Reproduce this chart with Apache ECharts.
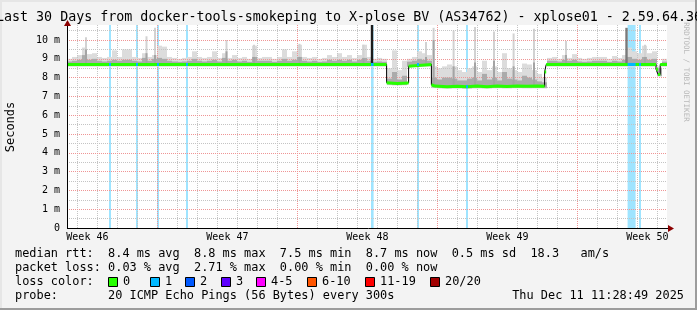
<!DOCTYPE html>
<html><head><meta charset="utf-8">
<script src="https://cdn.jsdelivr.net/npm/echarts@6/dist/echarts.min.js"></script>
<style>html,body{margin:0;padding:0;background:#f3f3f3}#c{width:697px;height:310px}</style>
</head><body><div id="c"></div>
<script>
// ---------------- DATA (x: days since window start, y: ms) ----------------
const titleText = 'Last 30 Days from docker-tools-smokeping to X-plose BV (AS34762) - xplose01 - 2.59.64.36';
const weekLabels = ['Week 46', 'Week 47', 'Week 48', 'Week 49', 'Week 50'];
const weekLabelDays = [1.02, 8.02, 15.02, 22.02, 29.02];
const weekStartDays = [4.52, 11.52, 18.52, 25.52];
const firstMidnight = 0.52;
const yTickValues = [0, 1, 2, 3, 4, 5, 6, 7, 8, 9, 10];
const yMax = 10.8;
const xMax = 30;

// median RTT polyline (ms)
const medianDays = [0, 15.98, 15.98, 16.5, 17.08, 17.08, 17.15, 18.22, 18.22, 18.4, 19.0, 19.5, 20.0, 20.5, 21.0, 21.5, 22.0, 22.5, 23.0, 23.5, 23.88, 23.88, 23.96, 23.96, 29.45, 29.45, 29.55, 29.55, 29.66, 29.66, 30];
const medianVals = [8.7, 8.7, 7.73, 7.69, 7.72, 8.6, 8.7, 8.7, 7.62, 7.55, 7.52, 7.54, 7.51, 7.55, 7.52, 7.56, 7.53, 7.56, 7.54, 7.55, 7.54, 8.3, 8.3, 8.7, 8.7, 8.45, 8.45, 8.17, 8.17, 8.7, 8.7];

// smoke (spread of the 20 pings) in 6-hour buckets: top of light smoke, top of dense core
const smokeStep = 0.25;
const smokeTop = [
 9.0, 9.1, 9.2, 9.6, 9.25, 9.3, 9.1, 9.05, 9.1, 9.45,
 9.1, 9.5, 9.5, 9.1, 9.05, 9.3, 9.1, 9.2, 9.7, 9.65,
 9.1, 9.05, 9.0, 9.05, 9.1, 9.4, 9.1, 9.05, 9.1, 9.4,
 9.05, 9.3, 9.05, 9.2, 9.05, 9.1, 9.0, 9.7, 9.05, 9.1,
 9.1, 9.0, 9.1, 9.5, 9.1, 9.4, 9.75, 9.1, 9.05, 9.1,
 9.0, 9.05, 9.2, 9.1, 9.3, 9.1, 9.2, 9.05, 9.2, 9.75,
 9.1, 9.0, 9.05, 9.0, 8.5, 9.45, 8.4, 8.9, 9.0, 9.1,
 9.4, 9.3, 9.2, 8.6, 8.5, 8.6, 8.7, 8.6, 8.4, 8.3,
 8.5, 8.6, 8.3, 8.9, 8.4, 8.6, 8.3, 9.3, 8.5, 8.4,
 8.3, 8.75, 8.7, 8.4, 8.2, 8.0, 9.05, 9.1, 9.0, 9.2,
 9.05, 9.25, 9.05, 9.0, 9.05, 9.1, 9.1, 9.1, 9.0, 9.15,
 9.05, 9.2, 9.6, 9.4, 9.3, 9.7, 9.3, 9.4, 8.6, 9.0];
const smokeCore = [
 8.86, 8.9, 8.95, 9.2, 8.95, 9.0, 8.9, 8.86, 8.9, 8.95,
 8.9, 8.95, 8.95, 8.9, 8.86, 9.05, 8.9, 9.0, 9.05, 9.0,
 8.9, 8.86, 8.84, 8.86, 8.9, 9.0, 8.9, 8.86, 8.9, 8.95,
 8.86, 9.05, 8.9, 8.95, 8.86, 8.9, 8.84, 9.1, 8.9, 8.9,
 8.9, 8.84, 8.9, 9.0, 8.9, 8.95, 9.1, 8.9, 8.86, 8.9,
 8.84, 8.86, 8.95, 8.9, 8.95, 8.9, 8.95, 8.86, 8.95, 9.05,
 8.9, 8.84, 8.86, 8.84, 7.95, 8.3, 7.9, 8.1, 8.85, 8.9,
 9.0, 8.95, 8.9, 8.0, 7.9, 8.0, 8.0, 7.95, 7.85, 7.85,
 7.95, 8.0, 7.85, 8.2, 7.9, 8.0, 7.85, 8.3, 7.95, 7.9,
 7.85, 8.1, 8.0, 7.9, 7.8, 7.75, 8.9, 8.9, 8.86, 8.95,
 8.9, 8.95, 8.86, 8.84, 8.86, 8.9, 8.9, 8.9, 8.84, 8.9,
 8.86, 8.95, 9.1, 9.0, 8.95, 9.1, 8.95, 9.0, 8.5, 8.85];

// narrow spikes of the smoke: centre day, top of light part, top of dense part
const spikeDays  = [0.95, 3.975, 4.4, 7.975, 9.35, 11.625, 14.825, 17.95, 18.33, 19.33, 20.4, 21.35, 22.33, 23.35, 24.95, 28.9];
const spikeTops  = [10.15, 10.2, 10.65, 10.0, 9.75, 9.8, 9.75, 9.9, 10.65, 10.5, 10.7, 10.45, 10.35, 10.6, 9.95, 9.75];
const spikeCores = [9.5, 9.3, 9.2, 9.4, 9.1, 9.1, 9.0, 9.1, 10.0, 8.6, 8.8, 8.9, 8.6, 8.8, 9.2, 9.1];
// columns where all pings were spread to the top (very dense)
const denseDays = [15.25, 27.975];
const denseTops = [10.8, 10.65];

// packet loss 1/20 periods (start / end day)
const lossStart = [2.1, 3.45, 4.5, 5.95, 15.2, 17.5, 19.95, 28.03, 28.6];
const lossEnd   = [2.2, 3.55, 4.6, 6.05, 15.33, 17.6, 20.05, 28.43, 28.7];

// legend / statistics
const statsRow1 = 'median rtt:  8.4 ms avg  8.8 ms max  7.5 ms min  8.7 ms now  0.5 ms sd  18.3   am/s';
const statsRow2 = 'packet loss: 0.03 % avg  2.71 % max  0.00 % min  0.00 % now';
const lossLegendLabels = ['0', '1', '2', '3', '4-5', '6-10', '11-19', '20/20'];
const probeText = 'probe:       20 ICMP Echo Pings (56 Bytes) every 300s';
const dateText = 'Thu Dec 11 11:28:49 2025';

// ---------------- STYLE ----------------
const MONO = "'DejaVu Sans Mono', monospace";
const lossLegendColors = ['#26ff00', '#00b8ff', '#0059ff', '#5e00ff', '#ff00ff', '#ff5500', '#ff0000', '#a10000'];
const lossLegendX = [108, 150, 185, 221, 256, 307, 365, 430];
const denseColors = ['#1c1c1c', '#7a7a7a'];

function medianAt(d) {
  let i = 0;
  for (let k = 0; k < medianDays.length; k++) if (medianDays[k] <= d) i = k;
  if (i >= medianDays.length - 1) return medianVals[i];
  const d0 = medianDays[i], d1 = medianDays[i + 1];
  if (d1 === d0) return medianVals[i + 1];
  return medianVals[i] + (medianVals[i + 1] - medianVals[i]) * (d - d0) / (d1 - d0);
}

function rectRender(params, api) {
  const p0 = api.coord([api.value(0), api.value(2)]);
  const p1 = api.coord([api.value(1), api.value(3)]);
  const cs = params.coordSys;
  const shape = echarts.graphic.clipRectByRect(
    {x: p0[0], y: p1[1], width: p1[0] - p0[0], height: p0[1] - p1[1]},
    {x: cs.x, y: cs.y, width: cs.width, height: cs.height});
  return shape && {type: 'rect', shape: shape, style: api.style()};
}

// grid line positions
const dayLines = [], weekLines = [];
for (let d = firstMidnight; d < xMax; d += 1) {
  if (!weekStartDays.some(w => Math.abs(w - d) < 1e-6)) dayLines.push(d);
}
weekStartDays.forEach(d => weekLines.push(d));
const halfLines = [], unitLines = [];
for (let v = 0.5; v < yMax; v += 1) halfLines.push(v);
for (let v = 1; v < yMax; v += 1) unitLines.push(v);
const gridGray = {color: '#c4c4c4', type: [1, 1], width: 1};
const gridRed = {color: '#ef9595', type: [1, 1], width: 1};
const gridMarks = []
  .concat(dayLines.map(d => ({xAxis: d, lineStyle: gridGray})))
  .concat(halfLines.map(v => ({yAxis: v, lineStyle: gridGray})))
  .concat(weekLines.map(d => ({xAxis: d, lineStyle: gridRed})))
  .concat(unitLines.map(v => ({yAxis: v, lineStyle: gridRed})));

const lossData = lossStart.map((s, i) => [s, lossEnd[i], 0, yMax]);
const smokeData = smokeTop.map((t, i) => {
  const x0 = i * smokeStep, x1 = x0 + smokeStep;
  return [x0, x1, medianAt(x0 + smokeStep / 2) - 0.12, t];
});
const coreData = smokeCore.map((t, i) => {
  const x0 = i * smokeStep, x1 = x0 + smokeStep;
  return [x0, x1, medianAt(x0 + smokeStep / 2) - 0.08, t];
});
const spikeData = spikeDays.map((d, i) => [d - 0.05, d + 0.05, medianAt(d), spikeTops[i]]);
const spikeCoreData = spikeDays.map((d, i) => [d - 0.05, d + 0.05, medianAt(d), spikeCores[i]]);
const denseData = denseDays.map((d, i) => ({value: [d - 0.06, d + 0.06, medianAt(d), denseTops[i]], itemStyle: {color: denseColors[i]}}));
const medianData = medianDays.map((d, i) => [d, medianVals[i]]);
const greenData = [];
medianDays.forEach((d, i) => {
  if (i > 0 && d === medianDays[i - 1]) greenData.push([d, null]);
  greenData.push([d, medianVals[i]]);
});
const lossTickData = lossStart.map((s, i) => {
  const m = medianAt((s + lossEnd[i]) / 2);
  return [s, lossEnd[i], m - 0.08, m + 0.08];
});

const chart = echarts.init(document.getElementById('c'), null, {renderer: 'canvas', width: 697, height: 310});
const enc = {x: [0, 1], y: [2, 3]};
chart.setOption({
  animation: false,
  backgroundColor: '#f3f3f3',
  grid: {left: 67, right: 30, top: 25, bottom: 82, show: true, backgroundColor: '#ffffff', borderWidth: 0},
  xAxis: {
    type: 'value', min: 0, max: xMax,
    axisLine: {show: false},
    axisTick: {show: false},
    splitLine: {show: false},
    axisLabel: {customValues: weekLabelDays, margin: 4, fontFamily: MONO, fontSize: 10, color: '#000',
      formatter: v => { const i = weekLabelDays.findIndex(w => Math.abs(w - v) < 1e-6); return i >= 0 ? weekLabels[i] : ''; }}
  },
  yAxis: {
    type: 'value', min: 0, max: yMax,
    axisLine: {show: false},
    axisTick: {show: false},
    splitLine: {show: false},
    axisLabel: {customValues: yTickValues, margin: 7, fontFamily: MONO, fontSize: 10, color: '#000',
      formatter: v => v === 0 ? '0' : (v + ' m')}
  },
  series: [
    {type: 'line', z: 2, silent: true, data: [[0, null]], showSymbol: false,
      markLine: {silent: true, symbol: 'none', label: {show: false}, animation: false, data: gridMarks}},
    {type: 'custom', z: 3, silent: true, renderItem: rectRender, data: lossData, encode: enc, itemStyle: {color: '#9fe4ff'}},
    {type: 'custom', z: 4, silent: true, renderItem: rectRender, data: smokeData, encode: enc, itemStyle: {color: '#dcdcdc'}},
    {type: 'custom', z: 4, silent: true, renderItem: rectRender, data: spikeData, encode: enc, itemStyle: {color: '#d2d2d2'}},
    {type: 'custom', z: 5, silent: true, renderItem: rectRender, data: coreData, encode: enc, itemStyle: {color: '#ababab'}},
    {type: 'custom', z: 5, silent: true, renderItem: rectRender, data: spikeCoreData, encode: enc, itemStyle: {color: '#a4a4a4'}},
    {type: 'custom', z: 6, silent: true, renderItem: rectRender, data: denseData, encode: enc},
    {type: 'line', z: 7, silent: true, data: medianData, showSymbol: false, lineStyle: {color: '#000', width: 1}},
    {type: 'line', z: 8, silent: true, data: greenData, showSymbol: false, connectNulls: false, lineStyle: {color: '#26ff00', width: 3}},
    {type: 'custom', z: 9, silent: true, renderItem: rectRender, data: lossTickData, encode: enc, itemStyle: {color: '#00b8ff'}}
  ]
});

// ---------- decorations: title, labels, legend, frame ----------
const o = chart.convertToPixel({gridIndex: 0}, [0, 0]);
const ax0 = Math.round(o[0]) + 0.5, ay0 = Math.round(o[1]);
const rowY = [254, 268, 282, 296];
const gfx = [
  {type: 'rect', shape: {x: 0, y: 0, width: 697, height: 2}, style: {fill: '#e6e6e6'}, z: 100},
  {type: 'rect', shape: {x: 0, y: 0, width: 2, height: 310}, style: {fill: '#e6e6e6'}, z: 100},
  {type: 'rect', shape: {x: 695, y: 0, width: 2, height: 310}, style: {fill: '#9c9c9c'}, z: 100},
  {type: 'rect', shape: {x: 0, y: 308, width: 697, height: 2}, style: {fill: '#9c9c9c'}, z: 100},
  {type: 'text', x: 349, y: 18, style: {text: titleText, font: '13.33px ' + MONO, fill: '#000', align: 'center', verticalAlign: 'middle'}, z: 100},
  {type: 'text', x: 11, y: 127, rotation: Math.PI / 2, style: {text: 'Seconds', font: '12px ' + MONO, fill: '#000', align: 'center', verticalAlign: 'middle'}, z: 100},
  {type: 'text', x: 686, y: 72, rotation: -Math.PI / 2, style: {text: 'RRDTOOL / TOBI OETIKER', font: '7.5px ' + MONO, fill: '#b8b8b8', align: 'center', verticalAlign: 'middle'}, z: 100},
  {type: 'line', shape: {x1: ax0, y1: ay0, x2: ax0, y2: 22}, style: {stroke: '#000', lineWidth: 1}, z: 100},
  {type: 'line', shape: {x1: ax0 - 0.5, y1: ay0 + 0.5, x2: 670, y2: ay0 + 0.5}, style: {stroke: '#000', lineWidth: 1}, z: 100},
  {type: 'polygon', shape: {points: [[ax0 - 3.5, 26], [ax0 + 3.5, 26], [ax0, 20]]}, style: {fill: '#8b0000'}, z: 101},
  {type: 'polygon', shape: {points: [[668, ay0 - 3], [668, ay0 + 4], [674, ay0 + 0.5]]}, style: {fill: '#8b0000'}, z: 101},
  {type: 'text', x: 15, y: rowY[0], style: {text: statsRow1, font: '11.9px ' + MONO, fill: '#000', verticalAlign: 'middle'}, z: 100},
  {type: 'text', x: 15, y: rowY[1], style: {text: statsRow2, font: '11.9px ' + MONO, fill: '#000', verticalAlign: 'middle'}, z: 100},
  {type: 'text', x: 15, y: rowY[2], style: {text: 'loss color:', font: '11.9px ' + MONO, fill: '#000', verticalAlign: 'middle'}, z: 100},
  {type: 'text', x: 15, y: rowY[3], style: {text: probeText, font: '11.9px ' + MONO, fill: '#000', verticalAlign: 'middle'}, z: 100},
  {type: 'text', x: 684, y: rowY[3], style: {text: dateText, font: '11.9px ' + MONO, fill: '#000', align: 'right', verticalAlign: 'middle'}, z: 100}
];
lossLegendLabels.forEach((lab, i) => {
  gfx.push({type: 'rect', shape: {x: lossLegendX[i] + 0.5, y: rowY[2] - 4.5, width: 9, height: 9}, style: {fill: lossLegendColors[i], stroke: '#000', lineWidth: 1}, z: 100});
  gfx.push({type: 'text', x: lossLegendX[i] + 15, y: rowY[2], style: {text: lab, font: '11.9px ' + MONO, fill: '#000', verticalAlign: 'middle'}, z: 100});
});
chart.setOption({graphic: gfx});
</script>
</body></html>
